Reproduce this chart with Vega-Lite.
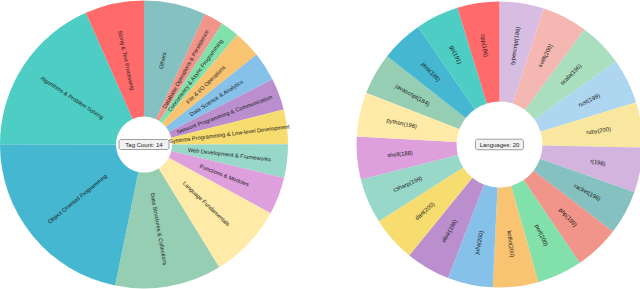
{
  "$schema": "https://vega.github.io/schema/vega-lite/v6.json",
  "padding": 0,
  "spacing": 65.5,
  "resolve": {"scale": {"color": "independent", "theta": "independent"}},
  "config": {"view": {"stroke": null}, "font": "Liberation Sans"},
  "hconcat": [
    {
      "width": 288,
      "height": 289,
      "layer": [
        {
          "data": {"name": "tags", "values": [
            {"idx": 1, "tag": "Others", "count": 250},
            {"idx": 2, "tag": "Database Operations & Persistence", "count": 78},
            {"idx": 3, "tag": "Concurrency & Async Programming", "count": 75},
            {"idx": 4, "tag": "File & I/O Operations", "count": 110},
            {"idx": 5, "tag": "Data Science & Analytics", "count": 117},
            {"idx": 6, "tag": "Network Programming & Communication", "count": 128},
            {"idx": 7, "tag": "Systems Programming & Low-level Development", "count": 140},
            {"idx": 8, "tag": "Web Development & Frameworks", "count": 135},
            {"idx": 9, "tag": "Functions & Modules", "count": 150},
            {"idx": 10, "tag": "Language Fundamentals", "count": 300},
            {"idx": 11, "tag": "Data Structures & Collections", "count": 430},
            {"idx": 12, "tag": "Object-Oriented Programming", "count": 784},
            {"idx": 13, "tag": "Algorithms & Problem Solving", "count": 660},
            {"idx": 14, "tag": "String & Text Processing", "count": 238}
          ]},
          "transform": [
            {"joinaggregate": [{"op": "sum", "field": "count", "as": "total"}]},
            {"window": [{"op": "sum", "field": "count", "as": "cum"}], "sort": [{"field": "idx", "order": "ascending"}], "frame": [null, 0]},
            {"calculate": "(datum.cum - datum.count / 2) / datum.total * 360", "as": "mid"},
            {"calculate": "datum.mid < 180 ? datum.mid - 90 : datum.mid + 90", "as": "rot"}
          ],
          "layer": [
            {
              "mark": {"type": "arc", "outerRadius": 144, "innerRadius": 28},
              "encoding": {
                "theta": {"field": "count", "type": "quantitative", "stack": true},
                "order": {"field": "idx", "type": "quantitative", "sort": "ascending"},
                "color": {"field": "tag", "type": "nominal", "legend": null,
                  "scale": {
                    "domain": ["String & Text Processing", "Algorithms & Problem Solving", "Object-Oriented Programming", "Data Structures & Collections", "Language Fundamentals", "Functions & Modules", "Web Development & Frameworks", "Systems Programming & Low-level Development", "Network Programming & Communication", "Data Science & Analytics", "File & I/O Operations", "Concurrency & Async Programming", "Database Operations & Persistence", "Others"],
                    "range": ["#FF6B6B", "#4ECDC4", "#45B7D1", "#96CEB4", "#FFEAA7", "#DDA0DD", "#98D8C8", "#F7DC6F", "#BB8FCE", "#85C1E9", "#F8C471", "#82E0AA", "#F1948A", "#85C1C1"]
                  }}
              }
            },
            {
              "mark": {"type": "text", "radius": 86, "fontSize": 5.6, "fill": "#1a1a1a", "align": "center", "baseline": "middle"},
              "encoding": {
                "theta": {"field": "count", "type": "quantitative", "stack": true},
                "order": {"field": "idx", "type": "quantitative", "sort": "ascending"},
                "text": {"field": "tag", "type": "nominal"},
                "angle": {"field": "rot", "type": "quantitative", "scale": null}
              }
            }
          ]
        },
        {
          "data": {"values": [{"t": "Tag Count: 14"}]},
          "mark": {"type": "point", "shape": "M-0.94,-0.2L0.94,-0.2L1,-0.14L1,0.14L0.94,0.2L-0.94,0.2L-1,0.14L-1,-0.14Z", "size": 2500, "filled": true, "fill": "#f2f2f2", "stroke": "#888", "strokeWidth": 0.8, "opacity": 1},
          "encoding": {}
        },
        {
          "data": {"values": [{"t": "Tag Count: 14"}]},
          "mark": {"type": "text", "fontSize": 6, "fill": "#222", "align": "center", "baseline": "middle"},
          "encoding": {"text": {"field": "t", "type": "nominal"}}
        }
      ]
    },
    {
      "width": 286,
      "height": 289,
      "layer": [
        {
          "data": {"values": [
            {"idx": 1, "lang": "typescript", "count": 196},
            {"idx": 2, "lang": "swift", "count": 200},
            {"idx": 3, "lang": "scala", "count": 196},
            {"idx": 4, "lang": "rust", "count": 199},
            {"idx": 5, "lang": "ruby", "count": 200},
            {"idx": 6, "lang": "r", "count": 198},
            {"idx": 7, "lang": "racket", "count": 196},
            {"idx": 8, "lang": "php", "count": 199},
            {"idx": 9, "lang": "perl", "count": 200},
            {"idx": 10, "lang": "kotlin", "count": 200},
            {"idx": 11, "lang": "julia", "count": 200},
            {"idx": 12, "lang": "elixir", "count": 196},
            {"idx": 13, "lang": "dart", "count": 200},
            {"idx": 14, "lang": "csharp", "count": 199},
            {"idx": 15, "lang": "shell", "count": 188},
            {"idx": 16, "lang": "python", "count": 196},
            {"idx": 17, "lang": "javascript", "count": 184},
            {"idx": 18, "lang": "java", "count": 186},
            {"idx": 19, "lang": "go", "count": 191},
            {"idx": 20, "lang": "cpp", "count": 186}
          ]},
          "transform": [
            {"calculate": "datum.lang + '(' + datum.count + ')'", "as": "label"},
            {"joinaggregate": [{"op": "sum", "field": "count", "as": "total"}]},
            {"window": [{"op": "sum", "field": "count", "as": "cum"}], "sort": [{"field": "idx", "order": "ascending"}], "frame": [null, 0]},
            {"calculate": "(datum.cum - datum.count / 2) / datum.total * 360", "as": "mid"},
            {"calculate": "datum.mid < 180 ? datum.mid - 90 : datum.mid + 90", "as": "rot"}
          ],
          "layer": [
            {
              "mark": {"type": "arc", "outerRadius": 143, "innerRadius": 43},
              "encoding": {
                "theta": {"field": "count", "type": "quantitative", "stack": true},
                "order": {"field": "idx", "type": "quantitative", "sort": "ascending"},
                "color": {"field": "lang", "type": "nominal", "legend": null,
                  "scale": {
                    "domain": ["cpp", "go", "java", "javascript", "python", "shell", "csharp", "dart", "elixir", "julia", "kotlin", "perl", "php", "racket", "r", "ruby", "rust", "scala", "swift", "typescript"],
                    "range": ["#FF6B6B", "#4ECDC4", "#45B7D1", "#96CEB4", "#FFEAA7", "#DDA0DD", "#98D8C8", "#F7DC6F", "#BB8FCE", "#85C1E9", "#F8C471", "#82E0AA", "#F1948A", "#85C1C1", "#D2B4DE", "#F9E79F", "#AED6F1", "#A9DFBF", "#F5B7B1", "#D7BDE2"]
                  }}
              }
            },
            {
              "mark": {"type": "text", "radius": 100, "fontSize": 5.8, "fill": "#1a1a1a", "align": "center", "baseline": "middle"},
              "encoding": {
                "theta": {"field": "count", "type": "quantitative", "stack": true},
                "order": {"field": "idx", "type": "quantitative", "sort": "ascending"},
                "text": {"field": "label", "type": "nominal"},
                "angle": {"field": "rot", "type": "quantitative", "scale": null}
              }
            }
          ]
        },
        {
          "data": {"values": [{"t": "Languages: 20"}]},
          "mark": {"type": "point", "shape": "M-0.94,-0.22L0.94,-0.22L1,-0.16L1,0.16L0.94,0.22L-0.94,0.22L-1,0.16L-1,-0.16Z", "size": 2304, "filled": true, "fill": "#f2f2f2", "stroke": "#888", "strokeWidth": 0.8, "opacity": 1},
          "encoding": {}
        },
        {
          "data": {"values": [{"t": "Languages: 20"}]},
          "mark": {"type": "text", "fontSize": 6, "fill": "#222", "align": "center", "baseline": "middle"},
          "encoding": {"text": {"field": "t", "type": "nominal"}}
        }
      ]
    }
  ]
}
